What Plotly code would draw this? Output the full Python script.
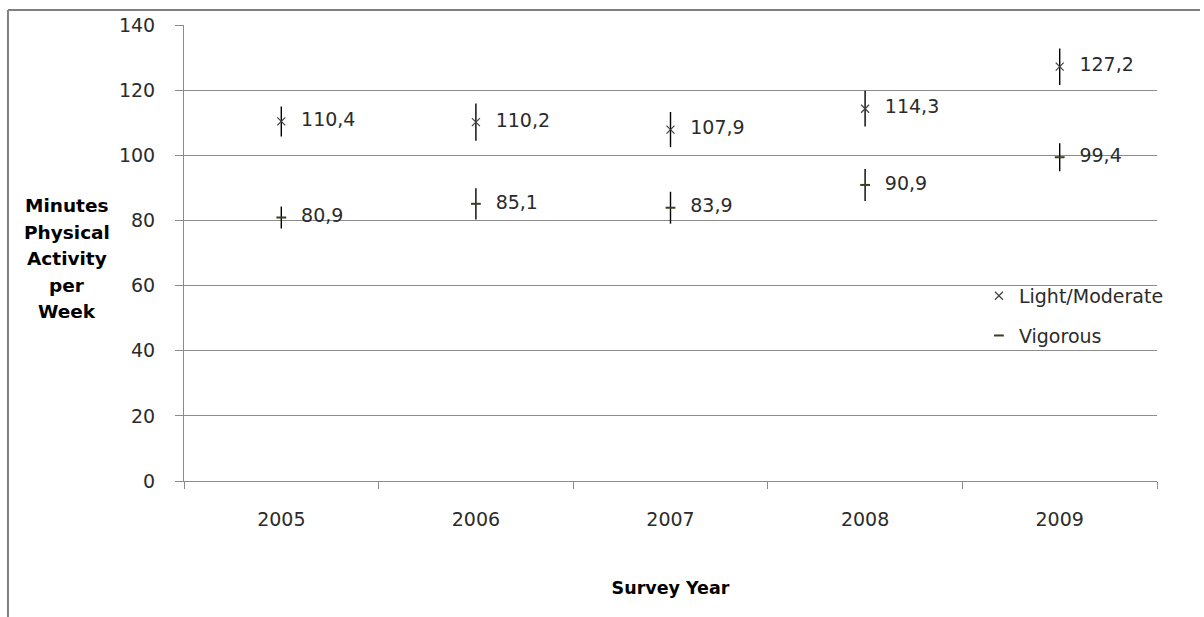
import plotly.graph_objects as go

# ---- data ----
years = ["2005", "2006", "2007", "2008", "2009"]
light_moderate = [110.4, 110.2, 107.9, 114.3, 127.2]
light_moderate_err = [4.6, 5.7, 5.4, 5.5, 5.6]
vigorous = [80.9, 85.1, 83.9, 90.9, 99.4]
vigorous_err = [3.4, 4.8, 4.9, 4.9, 4.3]
y_ticks = [0, 20, 40, 60, 80, 100, 120, 140]
y_title_lines = ["Minutes", "Physical", "Activity", "per", "Week"]

FONT = "DejaVu Sans"
TXT = "#2b2b2b"
GRID = "#8c8c8c"


def fmt(v):
    return f"{v:.1f}".replace(".", ",")


fig = go.Figure()

fig.add_trace(go.Scatter(
    x=years, y=light_moderate, mode="markers", name="Light/Moderate",
    legendgroup="lm",
    marker=dict(symbol="x-thin-open", size=8, color="#404040",
                line=dict(width=1.2, color="#404040")),
    error_y=dict(type="data", array=light_moderate_err, visible=True,
                 color="#000000", thickness=1.4, width=0),
))
fig.add_trace(go.Scatter(
    x=years, y=vigorous, mode="markers", name="Vigorous",
    legendgroup="vg",
    marker=dict(symbol="line-ew-open", size=7, color="#3d3d1f",
                line=dict(width=2, color="#3d3d1f")),
    error_y=dict(type="data", array=vigorous_err, visible=True,
                 color="#000000", thickness=1.4, width=0),
))

# data labels to the right of each point
for vals in (light_moderate, vigorous):
    fig.add_trace(go.Scatter(
        x=years, y=vals, mode="markers+text",
        text=[fmt(v) for v in vals], textposition="middle right",
        textfont=dict(family=FONT, size=19, color=TXT),
        marker=dict(size=30, opacity=0),
        showlegend=False, hoverinfo="skip",
    ))

# multi-line y-axis title, one line per annotation (wider line spacing)
annotations = []
n = len(y_title_lines)
for i, line in enumerate(y_title_lines):
    annotations.append(dict(
        text=f"<b>{line}</b>", xref="paper", yref="paper",
        x=-0.1202, y=0.487 + ((n - 1) / 2 - i) * 26.5 / 456,
        xanchor="center", yanchor="middle", showarrow=False,
        font=dict(family=FONT, size=18.5, color="#000000"),
    ))

fig.update_layout(
    width=1204, height=617,
    margin=dict(l=184, r=47, t=25, b=136, autoexpand=False),
    paper_bgcolor="white", plot_bgcolor="white",
    font=dict(family=FONT, size=19, color=TXT),
    showlegend=True,
    legend=dict(x=0.817, xanchor="left", y=0.362, yanchor="middle",
                bgcolor="rgba(0,0,0,0)", tracegroupgap=12,
                font=dict(family=FONT, size=19, color=TXT)),
    xaxis=dict(
        type="category", categoryorder="array", categoryarray=years,
        range=[-0.5, 4.5], showgrid=False, zeroline=False,
        showline=True, linecolor=GRID, linewidth=1,
        ticks="outside", tickson="boundaries", ticklen=7, tickcolor=GRID,
        tickfont=dict(family=FONT, size=19, color=TXT),
        ticklabelstandoff=21,
        title=dict(text="<b>Survey Year</b>", standoff=52,
                   font=dict(family=FONT, size=17.5, color="#000000")),
    ),
    yaxis=dict(
        range=[0, 140], tickvals=y_ticks, showgrid=True, gridcolor=GRID,
        gridwidth=1, zeroline=False, showline=True, linecolor=GRID,
        linewidth=1, ticks="outside", ticklen=8, tickcolor=GRID,
        tickfont=dict(family=FONT, size=19, color=TXT),
        ticklabelstandoff=16,
    ),
    annotations=annotations,
    shapes=[
        dict(type="line", xref="paper", yref="paper",
             x0=-0.1809, x1=1.0442, y0=1.0329, y1=1.0329,
             line=dict(color="#808080", width=2)),
        dict(type="line", xref="paper", yref="paper",
             x0=-0.1809, x1=-0.1809, y0=1.0329, y1=-0.32,
             line=dict(color="#808080", width=2)),
    ],
)

fig.write_html("out.html")
